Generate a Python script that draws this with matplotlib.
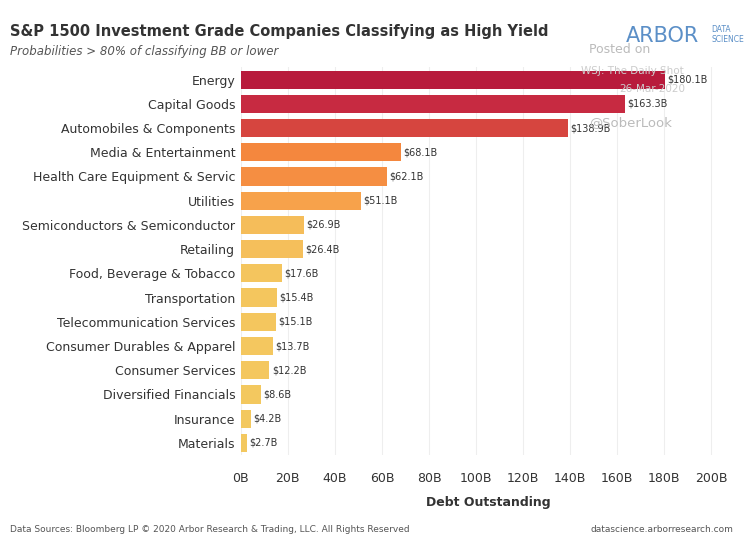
import matplotlib.pyplot as plt

categories = ['Energy', 'Capital Goods', 'Automobiles & Components', 'Media & Entertainment',
              'Health Care Equipment & Servic', 'Utilities', 'Semiconductors & Semiconductor',
              'Retailing', 'Food, Beverage & Tobacco', 'Transportation',
              'Telecommunication Services', 'Consumer Durables & Apparel',
              'Consumer Services', 'Diversified Financials', 'Insurance', 'Materials']
values = [180.1, 163.3, 138.9, 68.1, 62.1, 51.1, 26.9, 26.4, 17.6, 15.4, 15.1, 13.7, 12.2, 8.6, 4.2, 2.7]
colors = ['#b81b3c', '#c72a41', '#d6453f', '#f4873e', '#f58e42', '#f7a24b', '#f5bd5a', '#f5bf5b',
          '#f4c55e', '#f4c65e', '#f4c65e', '#f4c75f', '#f4c75f', '#f3c85f', '#f3c85f', '#f3c85f']

plt.rcParams['font.family'] = 'DejaVu Sans'
fig = plt.figure(figsize=(7.5, 5.6), dpi=100)
ax = fig.add_axes([0.321, 0.1875, 0.659, 0.692])

y = range(len(categories))
ax.barh(y, values, color=colors, height=0.75)
for i, v in enumerate(values):
    ax.text(v + 1, i, f'${v:.1f}B', va='center', ha='left', fontsize=7, color='#333333')

ax.set_ylim(len(categories) - 0.5, -0.5)
ax.set_xlim(0, 210)
ax.set_yticks(list(y))
ax.set_yticklabels(categories, fontsize=9, color='#333333')
ax.set_xticks(range(0, 201, 20))
ax.set_xticklabels([f'{t}B' for t in range(0, 201, 20)], fontsize=9, color='#333333')
ax.tick_params(length=0, pad=4)
ax.tick_params(axis='x', pad=12)
ax.grid(axis='x', color='#eeeeee', lw=0.8)
ax.set_axisbelow(True)
for s in ax.spines.values():
    s.set_visible(False)
ax.set_xlabel('Debt Outstanding', fontsize=9, fontweight='bold', color='#333333', labelpad=8)

fig.text(0.013, 0.935, 'S&P 1500 Investment Grade Companies Classifying as High Yield',
         fontsize=10.5, fontweight='bold', color='#333333')
fig.text(0.013, 0.902, 'Probabilities > 80% of classifying BB or lower', fontsize=8.5,
         style='italic', color='#555555')
fig.text(0.835, 0.925, 'ARBOR', fontsize=15, color='#5b8fc7')
fig.text(0.948, 0.943, 'DATA', fontsize=5.5, color='#5b8fc7')
fig.text(0.948, 0.925, 'SCIENCE', fontsize=5.5, color='#5b8fc7')
fig.text(0.785, 0.905, 'Posted on', fontsize=9, color='#bbbbbb')
fig.text(0.775, 0.867, 'WSJ: The Daily Shot', fontsize=7.5, color='#cccccc')
fig.text(0.825, 0.835, '26-Mar-2020', fontsize=7.5, color='#cccccc')
fig.text(0.785, 0.775, '@SoberLook', fontsize=9.5, color='#bbbbbb')
fig.text(0.013, 0.05, 'Data Sources: Bloomberg LP © 2020 Arbor Research & Trading, LLC. All Rights Reserved',
         fontsize=6.5, color='#555555')
fig.text(0.978, 0.05, 'datascience.arborresearch.com', fontsize=6.5, color='#555555', ha='right')

fig.savefig('out.png', dpi=100)
